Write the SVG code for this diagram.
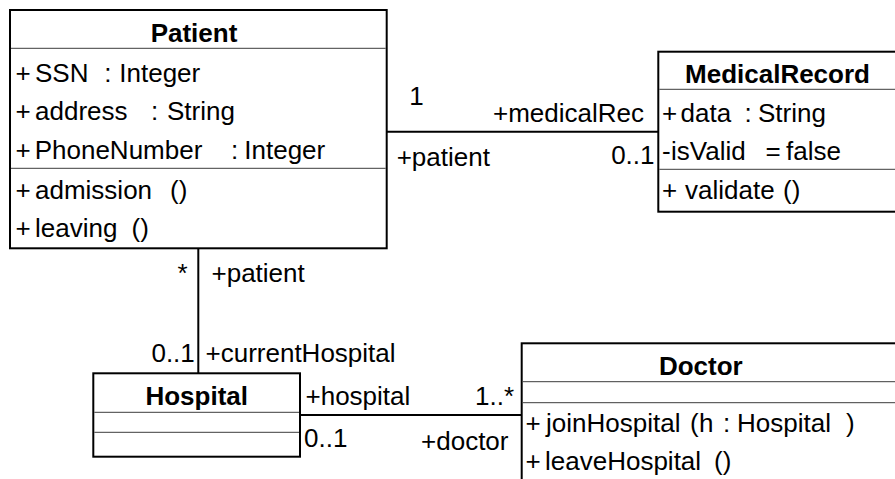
<svg xmlns="http://www.w3.org/2000/svg" width="895" height="479" viewBox="0 0 895 479">
  <style>
    .box { fill: #ffffff; stroke: #000000; stroke-width: 2; }
    .sep { stroke: #3c3c3c; stroke-width: 1; fill: none; }
    .edge { stroke: #000000; stroke-width: 2; fill: none; }
    text { font-family: "Liberation Sans", Arial, sans-serif; font-size: 26px; fill: #000000; }
    .title { font-weight: bold; text-anchor: middle; }
    .end { text-anchor: end; }
  </style>
  <rect width="895" height="479" fill="#ffffff"/>

  <!-- associations with their role names and multiplicities -->
  <g id="connectors">
    <g id="patient-medicalrecord">
      <line class="edge" x1="387" y1="131.7" x2="658" y2="131.7"/>
      <text x="409.2" y="105">1</text>
      <text class="end" x="644" y="121.7">+medicalRec</text>
      <text x="396.7" y="166">+patient</text>
      <text class="end" x="654.5" y="163.5">0..1</text>
    </g>
    <g id="patient-hospital">
      <line class="edge" x1="198.3" y1="248" x2="198.3" y2="373.3"/>
      <text class="end" x="187.5" y="282">*</text>
      <text x="211.5" y="282">+patient</text>
      <text class="end" x="194.8" y="361.7">0..1</text>
      <text x="205.5" y="361.7">+currentHospital</text>
    </g>
    <g id="hospital-doctor">
      <line class="edge" x1="300" y1="415" x2="521.7" y2="415"/>
      <text x="305.5" y="405">+hospital</text>
      <text class="end" x="514" y="405">1..*</text>
      <text x="304" y="447">0..1</text>
      <text class="end" x="508.5" y="450">+doctor</text>
    </g>
  </g>

  <g id="Patient">
    <rect class="box" x="10" y="10" width="376.7" height="238.3"/>
    <text class="title" x="194" y="42">Patient</text>
    <line class="sep" x1="11" y1="48.3" x2="385.7" y2="48.3"/>
    <text y="82"><tspan x="15.5">+</tspan><tspan x="35">SSN</tspan><tspan x="104.3">:</tspan><tspan x="119.3">Integer</tspan></text>
    <text y="120.3"><tspan x="15.5">+</tspan><tspan x="35">address</tspan><tspan x="151">:</tspan><tspan x="167">String</tspan></text>
    <text y="158.7"><tspan x="15.5">+</tspan><tspan x="34.7">PhoneNumber</tspan><tspan x="231">:</tspan><tspan x="244.3">Integer</tspan></text>
    <line class="sep" x1="11" y1="168.3" x2="385.7" y2="168.3"/>
    <text y="198.5"><tspan x="15.5">+</tspan><tspan x="35">admission</tspan><tspan x="170">()</tspan></text>
    <text y="237"><tspan x="15.5">+</tspan><tspan x="35">leaving</tspan><tspan x="131.5">()</tspan></text>
  </g>

  <g id="MedicalRecord">
    <rect class="box" x="658.3" y="51.7" width="260" height="160"/>
    <text class="title" x="777.5" y="82.7">MedicalRecord</text>
    <line class="sep" x1="659.3" y1="89.3" x2="895" y2="89.3"/>
    <text y="121.7"><tspan x="662">+</tspan><tspan x="680.5">data</tspan><tspan x="744.5">:</tspan><tspan x="758">String</tspan></text>
    <text y="160"><tspan x="662">-</tspan><tspan x="671">isValid</tspan><tspan x="765.5">=</tspan><tspan x="786">false</tspan></text>
    <line class="sep" x1="659.3" y1="169.3" x2="895" y2="169.3"/>
    <text y="199"><tspan x="662">+</tspan><tspan x="685">validate</tspan><tspan x="783">()</tspan></text>
  </g>

  <g id="Hospital">
    <rect class="box" x="93.3" y="373.3" width="206.7" height="83.4"/>
    <text class="title" x="196.7" y="405">Hospital</text>
    <line class="sep" x1="94.3" y1="412.3" x2="299" y2="412.3"/>
    <line class="sep" x1="94.3" y1="432.3" x2="299" y2="432.3"/>
  </g>

  <g id="Doctor">
    <rect class="box" x="521.7" y="343.3" width="400" height="160"/>
    <text class="title" x="700.8" y="375">Doctor</text>
    <line class="sep" x1="522.7" y1="381.7" x2="895" y2="381.7"/>
    <line class="sep" x1="522.7" y1="402.7" x2="895" y2="402.7"/>
    <text y="432"><tspan x="525.5">+</tspan><tspan x="546">joinHospital</tspan><tspan x="690">(</tspan><tspan x="699">h</tspan><tspan x="723">:</tspan><tspan x="737">Hospital</tspan><tspan x="846">)</tspan></text>
    <text y="470"><tspan x="525.5">+</tspan><tspan x="545">leaveHospital</tspan><tspan x="714">()</tspan></text>
  </g>
</svg>
